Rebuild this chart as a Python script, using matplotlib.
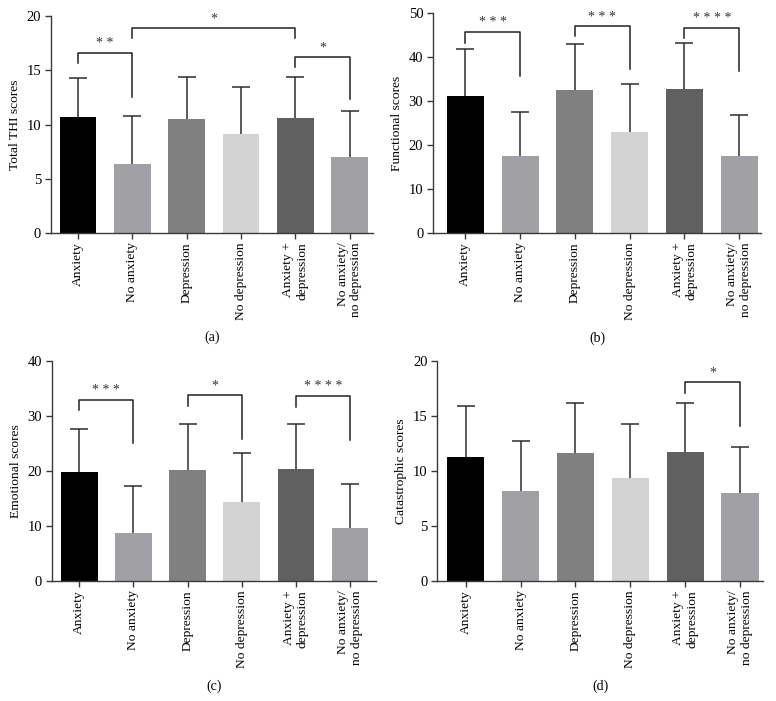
import matplotlib
matplotlib.use("Agg")
import matplotlib.pyplot as plt
import numpy as np

plt.rcParams['font.family'] = ['Liberation Serif', 'DejaVu Serif']

categories = ["Anxiety", "No anxiety", "Depression", "No depression",
              "Anxiety +\ndepression", "No anxiety/\nno depression"]
bar_colors = ["#000000", "#a0a0a5", "#808080", "#d3d3d3", "#606060", "#a0a0a5"]

# (a) Total THI scores
thi_mean = [10.66, 6.32, 10.54, 9.09, 10.60, 7.00]
thi_sd = [3.61, 4.50, 3.82, 4.35, 3.82, 4.28]
# (b) Functional scores
fun_mean = [31.2, 17.5, 32.6, 22.95, 32.75, 17.5]
fun_sd = [10.6, 10.1, 10.5, 10.9, 10.5, 9.25]
# (c) Emotional scores
emo_mean = [19.73, 8.68, 20.09, 14.39, 20.39, 9.59]
emo_sd = [7.89, 8.62, 8.44, 8.86, 8.14, 8.07]
# (d) Catastrophic scores
cat_mean = [11.29, 8.13, 11.62, 9.32, 11.68, 7.98]
cat_sd = [4.64, 4.56, 4.53, 4.94, 4.53, 4.22]

# significance brackets: (i, j, bar_y, left_leg_end, right_leg_end, label)
thi_sig = [(0, 1, 16.64, 15.65, 12.57, "* *"),
           (1, 4, 18.95, 18.03, 18.03, "*"),
           (4, 5, 16.27, 15.35, 12.36, "*")]
fun_sig = [(0, 1, 45.74, 43.31, 35.7, "* * *"),
           (2, 3, 47.04, 44.83, 37.39, "* * *"),
           (4, 5, 46.73, 44.3, 36.85, "* * * *")]
emo_sig = [(0, 1, 32.96, 31.08, 25.13, "* * *"),
           (2, 3, 33.75, 31.8, 25.8, "*"),
           (4, 5, 33.63, 31.68, 25.6, "* * * *")]
cat_sig = [(4, 5, 18.09, 17.12, 14.08, "*")]

panels = [
    dict(mean=thi_mean, sd=thi_sd, sig=thi_sig, ylabel="Total THI scores",
         ymax=20, step=5, tag="(a)", px=(50.7, 373, 16.3, 232.7), cx=(78, 349.5)),
    dict(mean=fun_mean, sd=fun_sd, sig=fun_sig, ylabel="Functional scores",
         ymax=50, step=10, tag="(b)", px=(433, 761, 13.3, 232.7), cx=(465.2, 739.3)),
    dict(mean=emo_mean, sd=emo_sd, sig=emo_sig, ylabel="Emotional scores",
         ymax=40, step=10, tag="(c)", px=(51.7, 376, 361, 580.7), cx=(79.3, 350)),
    dict(mean=cat_mean, sd=cat_sd, sig=cat_sig, ylabel="Catastrophic scores",
         ymax=20, step=5, tag="(d)", px=(437.3, 763, 361, 580.7), cx=(465.8, 740)),
]

W, H = 776, 701
fig = plt.figure(figsize=(W / 100, H / 100), dpi=100)
fig.patch.set_facecolor("white")

axis_col = "#3a3a3a"
err_col = "#2e2e2e"
for p in panels:
    l, r, t, b = p["px"]
    ax = fig.add_axes([l / W, 1 - b / H, (r - l) / W, (b - t) / H])
    c0, c5 = p["cx"]
    sp = (c5 - c0) / 5
    ax.set_xlim((l - c0) / sp, (r - c0) / sp)
    ax.set_ylim(0, p["ymax"])
    x = np.arange(len(categories))
    mean = np.array(p["mean"])
    top = mean + np.array(p["sd"])
    ax.bar(x, mean, width=0.675, color=bar_colors, zorder=2)
    ax.vlines(x, mean, top, color=err_col, lw=1.1, zorder=1)
    ax.plot(x, top, ls="none", marker="_", ms=13, mew=1.1, color=err_col, zorder=1)
    for (i, j, yb, yl, yr, lab) in p["sig"]:
        ax.plot([i, i, j, j], [yl, yb, yb, yr], color="#222222", lw=1.1,
                clip_on=False, zorder=3)
        ax.text((i + j) / 2, yb + p["ymax"] * 0.012, lab, ha="center", va="bottom",
                fontsize=10, color="#333333")
    for s in ["top", "right"]:
        ax.spines[s].set_visible(False)
    for s in ["left", "bottom"]:
        ax.spines[s].set_color(axis_col)
        ax.spines[s].set_linewidth(1.0)
    ax.set_yticks(np.arange(0, p["ymax"] + 0.1, p["step"]))
    ax.set_xticks(x)
    ax.set_xticklabels(categories, rotation=90, ha="center", va="top",
                       multialignment="right", fontsize=9.7)
    ax.tick_params(axis="both", direction="out", length=4, width=1.0,
                   color=axis_col, labelsize=9.7, pad=3)
    ax.tick_params(axis="y", labelsize=10.5)
    ax.set_ylabel(p["ylabel"], fontsize=9.7, labelpad=4)
    ax.text(0.5, -0.482, p["tag"],
            transform=ax.transAxes, ha="center", va="center", fontsize=10)

fig.savefig("out.png", dpi=100, facecolor="white")
